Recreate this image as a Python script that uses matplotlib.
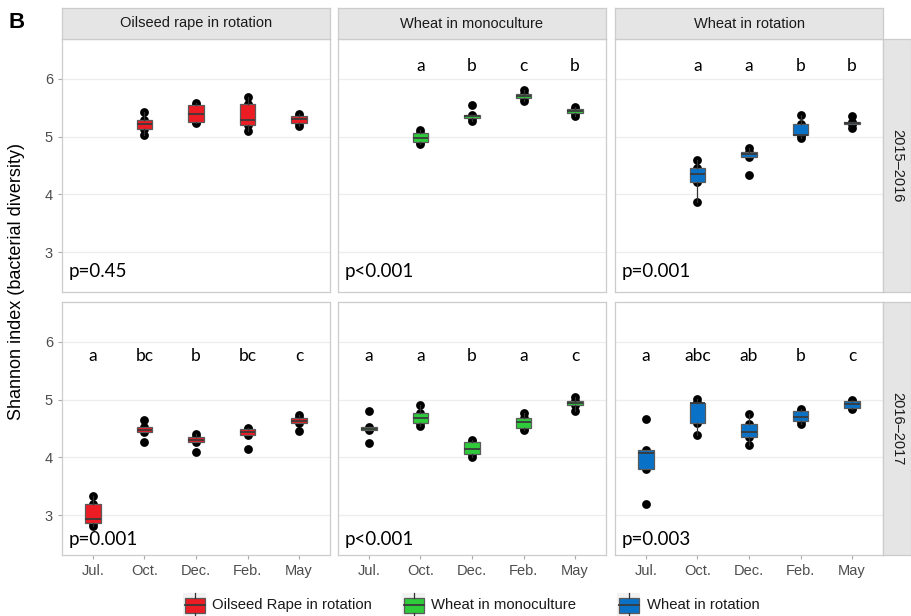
import matplotlib
matplotlib.use("Agg")
import matplotlib.pyplot as plt
from matplotlib.patches import Rectangle

# ---------------- data ----------------
months = ["Jul.", "Oct.", "Dec.", "Feb.", "May"]
crops = ["Oilseed rape in rotation", "Wheat in monoculture", "Wheat in rotation"]
legend_labels = ["Oilseed Rape in rotation", "Wheat in monoculture", "Wheat in rotation"]
years = ["2015\u20132016", "2016\u20132017"]
colors = ["#EC1C24", "#2ECC3A", "#0A72C6"]

# replicate Shannon values per month (None = not sampled)
osr_2015 = [None,
            [5.03, 5.13, 5.21, 5.29, 5.43],
            [5.24, 5.26, 5.40, 5.55, 5.58],
            [5.10, 5.20, 5.28, 5.57, 5.68],
            [5.18, 5.23, 5.31, 5.35, 5.39]]
mono_2015 = [None,
             [4.88, 4.90, 4.97, 5.07, 5.11],
             [5.27, 5.32, 5.35, 5.38, 5.55],
             [5.61, 5.67, 5.70, 5.74, 5.81],
             [5.36, 5.41, 5.44, 5.47, 5.51]]
rot_2015 = [None,
            [3.87, 4.22, 4.36, 4.46, 4.59],
            [4.33, 4.65, 4.70, 4.73, 4.81],
            [4.97, 5.02, 5.02, 5.22, 5.38],
            [5.15, 5.22, 5.24, 5.26, 5.35]]
osr_2016 = [[2.81, 2.87, 2.93, 3.19, 3.33],
            [4.27, 4.44, 4.48, 4.52, 4.65],
            [4.10, 4.26, 4.30, 4.35, 4.40],
            [4.15, 4.39, 4.44, 4.49, 4.51],
            [4.45, 4.59, 4.63, 4.68, 4.74]]
mono_2016 = [[4.25, 4.47, 4.50, 4.52, 4.80],
             [4.55, 4.59, 4.69, 4.77, 4.91],
             [4.00, 4.06, 4.14, 4.26, 4.30],
             [4.47, 4.51, 4.62, 4.69, 4.76],
             [4.80, 4.90, 4.94, 4.98, 5.05]]
rot_2016 = [[3.20, 3.80, 4.07, 4.13, 4.67],
            [4.39, 4.59, 4.95, 4.95, 5.01],
            [4.22, 4.35, 4.44, 4.58, 4.75],
            [4.57, 4.63, 4.70, 4.80, 4.83],
            [4.83, 4.85, 4.92, 4.97, 5.00]]
panel_data = [[osr_2015, mono_2015, rot_2015],
              [osr_2016, mono_2016, rot_2016]]

letters = [[["", "", "", "", ""],
            ["", "a", "b", "c", "b"],
            ["", "a", "a", "b", "b"]],
           [["a", "bc", "b", "bc", "c"],
            ["a", "a", "b", "a", "c"],
            ["a", "abc", "ab", "b", "c"]]]
letter_y = [6.23, 5.76]
pvalues = [["p=0.45", "p<0.001", "p=0.001"],
           ["p=0.001", "p<0.001", "p=0.003"]]
pvalue_y = [2.67, 2.57]

# ---------------- layout ----------------
W, H = 911, 616
fig = plt.figure(figsize=(W / 100, H / 100), dpi=100)

def rect(x0, y0, x1, y1):
    return [x0 / W, 1 - y1 / H, (x1 - x0) / W, (y1 - y0) / H]

col_x = [(62, 330), (338, 606), (615, 883)]
row_y = [(39, 292), (302, 555)]
strip_top = (8, 39)
strip_right = (883, 911)

SANS = ["Liberation Sans", "DejaVu Sans"]
ANNOT = ["Lato", "DejaVu Sans"]
grey_txt = "#4D4D4D"
border = "#CCCCCC"

for r in range(2):
    for c in range(3):
        ax = fig.add_axes(rect(col_x[c][0], row_y[r][0], col_x[c][1], row_y[r][1]))
        ax.set_xlim(0.4, 5.6)
        ax.set_ylim(2.31, 6.69)
        ax.set_facecolor("white")
        for s in ax.spines.values():
            s.set_color(border)
            s.set_linewidth(0.9)
        ax.set_yticks([3, 4, 5, 6])
        ax.set_xticks(range(1, 6))
        ax.yaxis.grid(True, color="#EDEDED", linewidth=0.9)
        ax.xaxis.grid(False)
        ax.set_axisbelow(True)
        ax.tick_params(axis="both", colors="#AAAAAA", length=3, width=0.8,
                       labelcolor=grey_txt, labelsize=10.5)
        if c == 0:
            ax.set_yticklabels(["3", "4", "5", "6"], fontfamily=SANS)
        else:
            ax.tick_params(axis="y", length=0, labelleft=False)
        if r == 1:
            ax.set_xticklabels(months, fontfamily=SANS)
        else:
            ax.tick_params(axis="x", length=0, labelbottom=False)

        data = panel_data[r][c]
        pos = [i + 1 for i, d in enumerate(data) if d is not None]
        vals = [d for d in data if d is not None]
        for p, v in zip(pos, vals):
            ax.scatter([p] * len(v), v, s=40, color="black", zorder=2, linewidths=0)
        ax.boxplot(vals, positions=pos, widths=0.3, patch_artist=True,
                   showfliers=False, showcaps=False, whis=1.5, manage_ticks=False,
                   boxprops=dict(facecolor=colors[c], edgecolor="#5A5A5A", linewidth=0.9),
                   medianprops=dict(color="#3A3A3A", linewidth=1.3),
                   whiskerprops=dict(color="#333333", linewidth=0.9),
                   zorder=3)
        for i, lab in enumerate(letters[r][c]):
            if lab:
                ax.text(i + 1, letter_y[r], lab, ha="center", va="center",
                        fontsize=12.5, fontfamily=ANNOT, color="black", zorder=5)
        ax.text(0.52, pvalue_y[r], pvalues[r][c], ha="left", va="center",
                fontsize=13.5, fontfamily=ANNOT, color="black", zorder=5)

# top strips
for c in range(3):
    sax = fig.add_axes(rect(col_x[c][0], strip_top[0], col_x[c][1], strip_top[1]))
    sax.set_xticks([]); sax.set_yticks([])
    sax.set_facecolor("#E5E5E5")
    for s in sax.spines.values():
        s.set_color(border); s.set_linewidth(0.9)
    sax.text(0.5, 0.5, crops[c], ha="center", va="center", fontsize=10.5,
             fontfamily=SANS, color="#1A1A1A", transform=sax.transAxes)

# right strips
for r in range(2):
    sax = fig.add_axes(rect(strip_right[0], row_y[r][0], strip_right[1], row_y[r][1]))
    sax.set_xticks([]); sax.set_yticks([])
    sax.set_facecolor("#E5E5E5")
    for s in sax.spines.values():
        s.set_color(border); s.set_linewidth(0.9)
    sax.text(0.5, 0.5, years[r], ha="center", va="center", fontsize=10.5,
             rotation=270, fontfamily=SANS, color="#1A1A1A", transform=sax.transAxes)

# overlay for labels and legend
ov = fig.add_axes([0, 0, 1, 1], zorder=10)
ov.set_xlim(0, W); ov.set_ylim(H, 0); ov.axis("off")
ov.patch.set_alpha(0)
ov.text(8, 22, "B", fontsize=16, fontweight="bold", fontfamily=SANS,
        ha="left", va="center", color="black")
ov.text(17, (strip_top[0] + row_y[1][1]) / 2, "Shannon index (bacterial diversity)",
        rotation=90, ha="center", va="center", fontsize=13, fontfamily=SANS, color="black")

key_x = [183, 402, 617]
text_x = [212, 431, 647]
for k in range(3):
    x0 = key_x[k]
    ov.add_patch(Rectangle((x0, 593), 23, 24, facecolor="#F2F2F2", edgecolor="none"))
    xm = x0 + 11.5
    ov.plot([xm, xm], [593, 597.5], color="#333333", lw=0.9)
    ov.plot([xm, xm], [612.5, 617], color="#333333", lw=0.9)
    ov.add_patch(Rectangle((x0 + 1.5, 597.5), 20, 15, facecolor=colors[k],
                           edgecolor="#5A5A5A", linewidth=0.9))
    ov.plot([x0 + 1.5, x0 + 21.5], [605, 605], color="#3A3A3A", lw=1.3)
    ov.text(text_x[k], 605, legend_labels[k], ha="left", va="center",
            fontsize=10.7, fontfamily=SANS, color="#1A1A1A")

fig.savefig("out.png", dpi=100)
